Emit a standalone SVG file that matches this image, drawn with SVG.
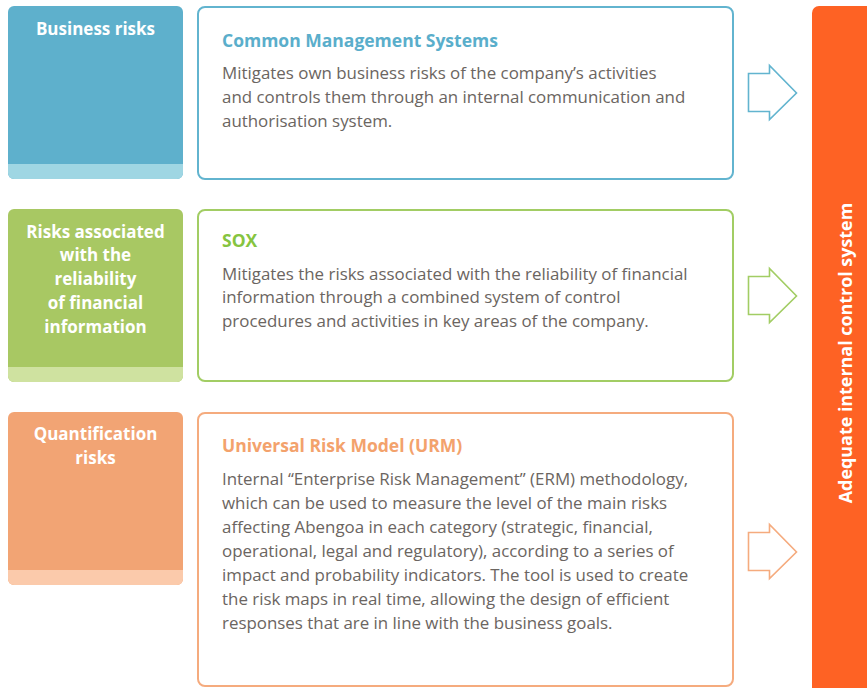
<svg xmlns="http://www.w3.org/2000/svg" width="867" height="688" viewBox="0 0 867 688">
  <style>
    .lbl { font-family: "Open Sans", "Liberation Sans", sans-serif; font-weight: 700; font-size: 17px; fill: #ffffff; text-anchor: middle; }
    .ttl { font-family: "Open Sans", "Liberation Sans", sans-serif; font-weight: 700; font-size: 17.5px; }
    .body { font-family: "Open Sans", "Liberation Sans", sans-serif; font-size: 16.9px; fill: #6b6561; }
    .card { fill: #ffffff; stroke-width: 2; }
    .arrow { fill: #ffffff; stroke-width: 1.6; stroke-linejoin: miter; }
    .blue-f { fill: #5eb0cc; } .blue-band { fill: #9fd6e3; } .blue-s { stroke: #62b4cf; } .blue-t { fill: #5aaecb; }
    .green-f { fill: #a8c863; } .green-band { fill: #cfe2a0; } .green-s { stroke: #a2cd64; } .green-t { fill: #86c440; }
    .orange-f { fill: #f2a474; } .orange-band { fill: #fbcaab; } .orange-s { stroke: #f5ab7e; } .orange-t { fill: #f3a26c; }
  </style>
  <defs>
    <clipPath id="clip-b"><rect x="8" y="6" width="175" height="173" rx="6"/></clipPath>
    <clipPath id="clip-g"><rect x="8" y="209" width="175" height="173" rx="6"/></clipPath>
    <clipPath id="clip-o"><rect x="8" y="412" width="175" height="173" rx="6"/></clipPath>
  </defs>

  <!-- Business risks row -->
  <g id="business-risks">
    <g clip-path="url(#clip-b)">
      <rect class="blue-f" x="8" y="6" width="175" height="173"/>
      <rect class="blue-band" x="8" y="164" width="175" height="15"/>
    </g>
    <text class="lbl" x="95.5" y="35">Business risks</text>
  </g>
  <g id="common-management-systems">
    <rect class="card blue-s" x="198" y="7" width="535" height="172" rx="7"/>
    <text class="ttl blue-t" x="222" y="47">Common Management Systems</text>
    <text class="body" x="222" y="79">Mitigates own business risks of the company’s activities</text>
    <text class="body" x="222" y="103">and controls them through an internal communication and</text>
    <text class="body" x="222" y="127">authorisation system.</text>
  </g>

  <!-- Financial reliability row -->
  <g id="financial-reliability-risks">
    <g clip-path="url(#clip-g)">
      <rect class="green-f" x="8" y="209" width="175" height="173"/>
      <rect class="green-band" x="8" y="367" width="175" height="15"/>
    </g>
    <text class="lbl" x="95.5" y="238">Risks associated</text>
    <text class="lbl" x="95.5" y="261">with the</text>
    <text class="lbl" x="95.5" y="285">reliability</text>
    <text class="lbl" x="95.5" y="309">of financial</text>
    <text class="lbl" x="95.5" y="333">information</text>
  </g>
  <g id="sox">
    <rect class="card green-s" x="198" y="210" width="535" height="171" rx="7"/>
    <text class="ttl green-t" x="222" y="247">SOX</text>
    <text class="body" x="222" y="280">Mitigates the risks associated with the reliability of financial</text>
    <text class="body" x="222" y="303">information through a combined system of control</text>
    <text class="body" x="222" y="327">procedures and activities in key areas of the company.</text>
  </g>

  <!-- Quantification row -->
  <g id="quantification-risks">
    <g clip-path="url(#clip-o)">
      <rect class="orange-f" x="8" y="412" width="175" height="173"/>
      <rect class="orange-band" x="8" y="570" width="175" height="15"/>
    </g>
    <text class="lbl" x="95.5" y="440">Quantification</text>
    <text class="lbl" x="95.5" y="464">risks</text>
  </g>
  <g id="universal-risk-model">
    <rect class="card orange-s" x="198" y="413" width="535" height="273" rx="7"/>
    <text class="ttl orange-t" x="222" y="452">Universal Risk Model (URM)</text>
    <text class="body" x="222" y="485">Internal “Enterprise Risk Management” (ERM) methodology,</text>
    <text class="body" x="222" y="509">which can be used to measure the level of the main risks</text>
    <text class="body" x="222" y="533">affecting Abengoa in each category (strategic, financial,</text>
    <text class="body" x="222" y="557">operational, legal and regulatory), according to a series of</text>
    <text class="body" x="222" y="581">impact and probability indicators. The tool is used to create</text>
    <text class="body" x="222" y="605">the risk maps in real time, allowing the design of efficient</text>
    <text class="body" x="222" y="629">responses that are in line with the business goals.</text>
  </g>

  <!-- Outcome bar -->
  <g id="adequate-internal-control-system">
    <rect x="812" y="6" width="70" height="690" rx="7" fill="#fe6224"/>
    <text transform="translate(852 353) rotate(-90)" text-anchor="middle" font-family="'Open Sans', 'Liberation Sans', sans-serif" font-weight="700" font-size="17.9" fill="#ffffff">Adequate internal control system</text>
  </g>

  <!-- Connectors -->
  <g id="connectors">
    <path class="arrow blue-s" d="M748.5 73.5 H769.5 V65.5 L796.5 93 L769.5 119.5 V111.5 H748.5 Z"/>
    <path class="arrow green-s" d="M748.5 276.5 H769.5 V268.5 L796.5 296 L769.5 322.5 V314.5 H748.5 Z"/>
    <path class="arrow orange-s" d="M748.5 532.5 H769.5 V524.5 L796.5 552 L769.5 578.5 V570.5 H748.5 Z"/>
  </g>
</svg>
